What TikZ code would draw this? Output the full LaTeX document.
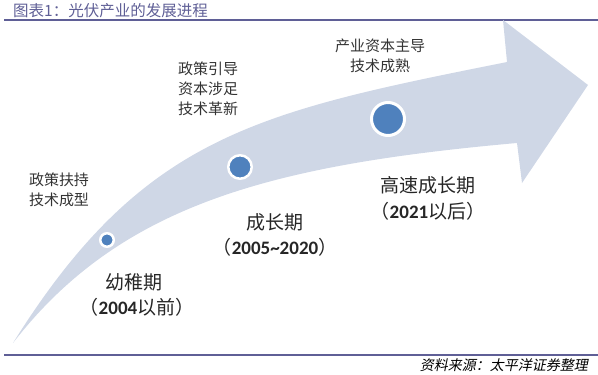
\documentclass[tikz,border=0pt]{standalone}
\usepackage{fontspec}
\setmainfont{Noto Sans CJK SC}
\newfontfamily\numfont{Carlito}
\newfontfamily\srcfont[FakeSlant=0.2]{Noto Sans CJK SC}
\usetikzlibrary{positioning}

\definecolor{rulecol}{HTML}{5F5F96}
\definecolor{arrowcol}{HTML}{CFD7E6}
\definecolor{dotcol}{HTML}{4F81BD}
\newcommand{\yr}[1]{{\numfont\bfseries #1}}

\begin{document}
\begin{tikzpicture}[x=1pt, y=-1pt,
        note/.style={align=center, font=\fontsize{15}{20}\selectfont, text=black!80, inner sep=0pt},
        stage/.style={font=\fontsize{19}{22}\selectfont, text=black!85, inner sep=0pt},
        dot/.style={circle, fill=dotcol, draw=white, line width=2.5pt, inner sep=0pt},
    ]
    \useasboundingbox (0,0) rectangle (598,375);

    % header and footer
    \node[anchor=west, inner sep=0pt, text=rulecol, font=\fontsize{15.5}{17}\selectfont] (title) at (13,11) {图表1：光伏产业的发展进程};
    \draw[rulecol, line width=1.6pt] (4,20) -- (598,20);
    \draw[rulecol, line width=1.6pt] (4,355) -- (598,355);
    \node[anchor=east, inner sep=0pt, font=\fontsize{14}{16}\selectfont\srcfont] (source) at (588,365) {资料来源：太平洋证券整理};

    % curved arrow
    \fill[arrowcol] (13,343) .. controls (143,135) and (257,112) .. (507,62)
        -- (503,20) -- (588,85) -- (522,183) -- (517,143)
        .. controls (270,165) and (120,205) .. (13,343) -- cycle;

    \node[dot, minimum size=13.5pt] (d1) at (107,240) {};
    \node[dot, minimum size=23.5pt] (d2) at (240,167) {};
    \node[dot, minimum size=33pt, line width=3pt] (d3) at (388,119) {};

    % notes above the arrow
    \node[note] (n1) at (59,190) {政策扶持\\技术成型};
    \node[note] (n2) at (208,89) {政策引导\\资本涉足\\技术革新};
    \node[note] (n3) at (380,56) {产业资本主导\\技术成熟};

    % stages below the arrow
    \node[stage] (s1) at (134,282) {幼稚期};
    \node[stage] (y1) at (137,307) {（\yr{2004}以前）};
    \node[stage] (s2) at (275,222) {成长期};
    \node[stage] (y2) at (275,247) {（\yr{2005\textasciitilde 2020}）};
    \node[stage] (s3) at (428,185) {高速成长期};
    \node[stage] (y3) at (428,211) {（\yr{2021}以后）};
\end{tikzpicture}
\end{document}
